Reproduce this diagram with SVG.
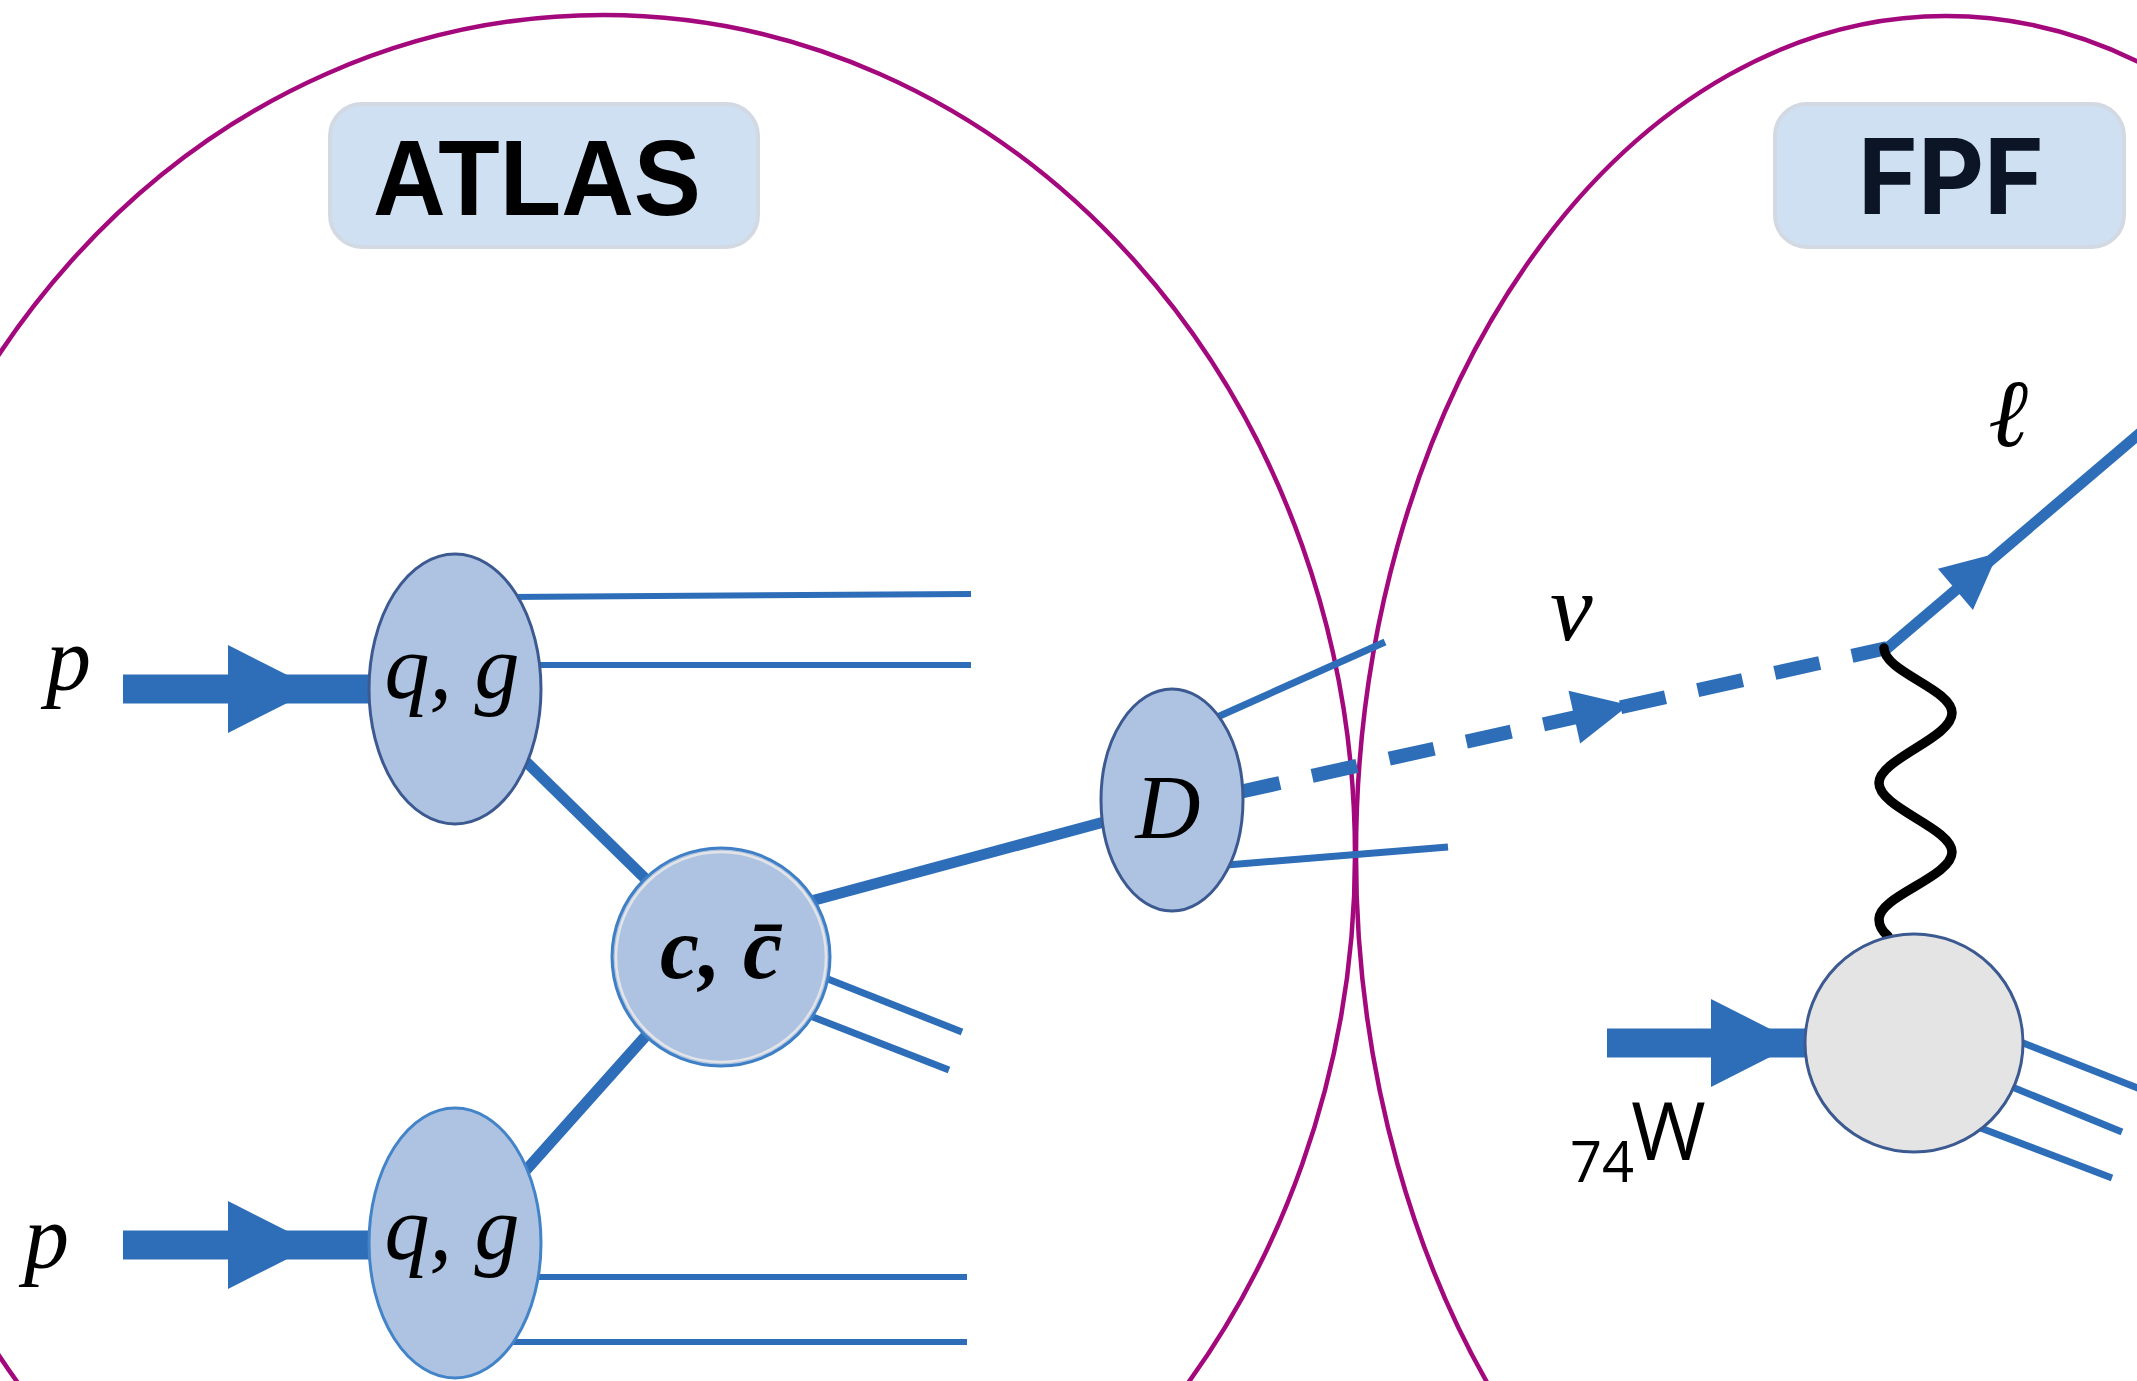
<svg xmlns="http://www.w3.org/2000/svg" xmlns:xlink="http://www.w3.org/1999/xlink" width="2137" height="1381" viewBox="0 0 2137 1381">
<style>
.region{fill:none;stroke:#a3087c;stroke-width:4.5}
.label-box{fill:#cfe0f2;stroke:#d3d9e2;stroke-width:4}
.ln{stroke:#2e6eb9;fill:none;stroke-linecap:butt}
.thin{stroke-width:6}
.mid{stroke-width:7}
.thick{stroke-width:11}
.blue{fill:#2e6eb9}
.node{fill:#adc3e1;stroke-width:3}
.dark{stroke:#3c5a91}
.light{stroke:#4384c9}
.math{font-family:"Liberation Serif","DejaVu Serif",serif;font-style:italic;fill:#000}
</style>
<defs>
<path id="fatHead" d="M0,-44 L87,0 L0,44 Z"/>
<path id="arrowHead" d="M0,0 L-56,-27 L-56,27 Z"/>
</defs>
<rect width="2137" height="1381" fill="#fff"/>

<g id="atlas-region">
<ellipse class="region" cx="603" cy="855" rx="752" ry="840"/>
</g>
<g id="fpf-region">
<ellipse class="region" cx="1946" cy="855" rx="590" ry="839"/>
</g>

<g id="connectors">
<!-- p beams -->
<rect class="blue" x="123" y="674.5" width="250" height="29"/>
<use href="#fatHead" x="228" y="689" fill="#2e6eb9"/>
<rect class="blue" x="123" y="1230.5" width="250" height="29"/>
<use href="#fatHead" x="228" y="1245" fill="#2e6eb9"/>
<!-- top q,g remnants -->
<line class="ln thin" x1="500" y1="597" x2="971" y2="594"/>
<line class="ln thin" x1="520" y1="665" x2="971" y2="665"/>
<!-- bottom q,g remnants -->
<line class="ln thin" x1="520" y1="1277" x2="967" y2="1277"/>
<line class="ln thin" x1="500" y1="1342" x2="967" y2="1342"/>
<!-- q,g to c -->
<line class="ln thick" x1="510" y1="746" x2="660" y2="893"/>
<line class="ln thick" x1="660" y1="1020" x2="510" y2="1188"/>
<!-- c to D -->
<line class="ln thick" x1="800" y1="904" x2="1115" y2="819"/>
<!-- c remnants -->
<line class="ln mid" x1="800" y1="968" x2="962" y2="1032"/>
<line class="ln mid" x1="800" y1="1012" x2="949" y2="1070"/>
<!-- D products -->
<line class="ln mid" x1="1195" y1="727" x2="1385" y2="642"/>
<line class="ln mid" x1="1215" y1="866" x2="1448" y2="847"/>
<!-- neutrino (dashed) -->
<line class="ln" stroke-width="14" stroke-dasharray="46 33" x1="1235" y1="793" x2="1887" y2="648"/>
<use href="#arrowHead" fill="#2e6eb9" transform="translate(1629,705) rotate(-12.5)"/>
<!-- lepton -->
<line class="ln" stroke-width="11" x1="1884" y1="651" x2="2145" y2="429"/>
<use href="#arrowHead" fill="#2e6eb9" transform="translate(1998,553) rotate(-40.5)"/>
<!-- exchanged boson (wavy) -->
<path d="M1884,648 C1884,672 1952,689 1952,713 C1952,738 1879,759 1879,783 C1879,808 1952,828 1952,852 C1952,877 1879,896 1879,919 C1879,927 1883,932 1888,936" fill="none" stroke="#000" stroke-width="9.5" stroke-linecap="round"/>
<!-- W beam -->
<rect class="blue" x="1607" y="1028.5" width="200" height="29"/>
<use href="#fatHead" x="1711" y="1043" fill="#2e6eb9"/>
<!-- target remnants -->
<line class="ln mid" x1="2000" y1="1034" x2="2140" y2="1089"/>
<line class="ln mid" x1="2000" y1="1082" x2="2122" y2="1132"/>
<line class="ln mid" x1="1970" y1="1124" x2="2112" y2="1178"/>
</g>

<g id="atlas-label">
<rect class="label-box" x="330" y="104" width="428" height="143" rx="32"/>
<text x="373" y="215" font-family="Liberation Sans, Arial, sans-serif" font-weight="bold" font-size="107" textLength="328" lengthAdjust="spacingAndGlyphs" fill="#000">ATLAS</text>
</g>
<g id="fpf-label">
<rect class="label-box" x="1775" y="104" width="349" height="143" rx="32"/>
<text x="1858" y="214" font-family="Inter, Roboto, sans-serif" font-weight="bold" font-size="104" textLength="186" lengthAdjust="spacingAndGlyphs" fill="#0b1526">FPF</text>
</g>

<g id="p-top"><text class="math" x="46" y="690" font-size="90">p</text></g>
<g id="p-bottom"><text class="math" x="24" y="1268" font-size="90">p</text></g>

<g id="qg-top">
<ellipse class="node dark" cx="455" cy="689" rx="86" ry="135"/>
<text class="math" x="452" y="698" font-size="90" text-anchor="middle">q, g</text>
</g>
<g id="qg-bottom">
<ellipse class="node light" cx="455" cy="1243" rx="86" ry="135"/>
<text class="math" x="452" y="1259" font-size="90" text-anchor="middle">q, g</text>
</g>
<g id="ccbar">
<circle class="node" cx="721" cy="957" r="109" stroke="#3f7fc6" stroke-width="3.5"/>
<circle cx="721" cy="957" r="105" fill="none" stroke="#e2e4e8" stroke-width="2.5"/>
<text class="math" x="721" y="978" font-size="88" font-weight="bold" text-anchor="middle">c, c̄</text>
</g>
<g id="D">
<ellipse class="node dark" cx="1172" cy="800" rx="71" ry="111"/>
<text class="math" x="1168" y="838" font-size="90" text-anchor="middle">D</text>
</g>
<g id="nu-label"><text class="math" x="1550" y="640" font-size="96">ν</text></g>
<g id="lepton-label"><text class="math" x="1988" y="446" font-size="96">ℓ</text></g>
<g id="target">
<circle cx="1914" cy="1043" r="109" fill="#e4e4e4" stroke="#3c5a91" stroke-width="3"/>
</g>
<g id="W-label">
<text font-family="Open Sans, Liberation Sans, sans-serif" fill="#000"><tspan x="1570" y="1182" font-size="56">74</tspan><tspan x="1631" y="1160" font-size="81">W</tspan></text>
</g>
</svg>
